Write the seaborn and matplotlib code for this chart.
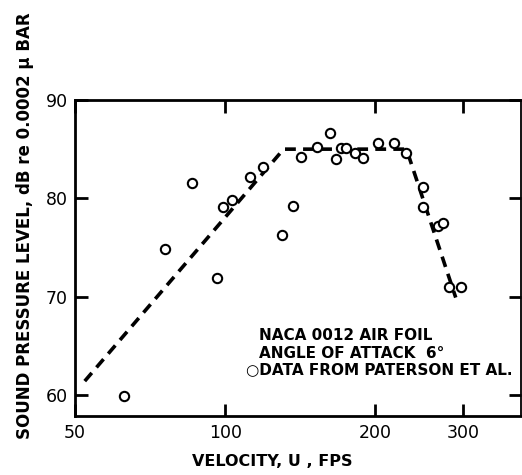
import matplotlib
matplotlib.use("Agg")
import matplotlib.pyplot as plt
from matplotlib.ticker import FixedLocator, NullLocator, FixedFormatter
import seaborn as sns
import pandas as pd

# Measured data (Paterson et al.)
velocity = [62.8, 75.6, 85.9, 96.2, 99.2, 103.3, 112.2, 119.3, 130.2, 136.8,
            142.1, 152.9, 162.5, 167.0, 170.9, 174.9, 182.3, 189.2, 202.5,
            218.5, 231.0, 249.0, 249.0, 266.6, 274.0, 280.5, 296.6]
spl = [59.9, 74.8, 81.6, 71.9, 79.1, 79.8, 82.2, 83.2, 76.3, 79.2,
       84.2, 85.2, 86.6, 84.0, 85.1, 85.1, 84.6, 84.1, 85.6,
       85.6, 84.6, 81.1, 79.1, 77.2, 77.5, 71.0, 71.0]

# Piecewise trend line
trend_velocity = [52.3, 131.0, 231.0, 290.0]
trend_spl = [61.4, 85.0, 85.0, 69.9]

x_ticks = [50, 100, 200, 300]
x_tick_labels = ["50", "100", "200", "300"]
y_ticks = [60, 70, 80, 90]
y_tick_labels = ["60", "70", "80", "90"]

data = pd.DataFrame({"velocity": velocity, "spl": spl})
trend = pd.DataFrame({"velocity": trend_velocity, "spl": trend_spl})

sns.set_style("ticks")
plt.rcParams["font.family"] = ["DejaVu Sans"]
plt.rcParams["text.color"] = "black"
plt.rcParams["xtick.color"] = "black"
plt.rcParams["ytick.color"] = "black"
plt.rcParams["xtick.labelcolor"] = "black"
plt.rcParams["ytick.labelcolor"] = "black"

fig = plt.figure(figsize=(5.22, 4.75), dpi=100)
ax = fig.add_axes([75 / 522, 1 - 416 / 475, (521 - 75) / 522, (416 - 100) / 475])

sns.lineplot(data=trend, x="velocity", y="spl", ax=ax, color="black",
             linewidth=2.6, linestyle=(0, (3.0, 2.0)), sort=False)
sns.scatterplot(data=data, x="velocity", y="spl", ax=ax, marker="o",
                s=45, facecolor="white", edgecolor="black", linewidth=1.5,
                zorder=3)

ax.set_xscale("log")
ax.set_xlim(50, 392)
ax.set_ylim(57.85, 90)

ax.xaxis.set_major_locator(FixedLocator(x_ticks))
ax.xaxis.set_major_formatter(FixedFormatter(x_tick_labels))
ax.xaxis.set_minor_locator(NullLocator())
ax.yaxis.set_major_locator(FixedLocator(y_ticks))
ax.yaxis.set_major_formatter(FixedFormatter(y_tick_labels))

ax.tick_params(axis="both", which="major", direction="in", length=9,
               width=2, color="black", labelcolor="black", labelsize=12.5,
               top=True, right=True, pad=6)
ax.tick_params(axis="y", pad=5)

for side in ["left", "bottom", "top"]:
    ax.spines[side].set_linewidth(2.0)
    ax.spines[side].set_color("black")
ax.spines["right"].set_linewidth(1.3)
ax.spines["right"].set_color("black")

ax.set_xlabel("")
ax.set_ylabel("")
fig.text(272 / 522, 1 - 462 / 475, "VELOCITY, U , FPS", ha="center",
         va="center", fontsize=11.5, fontweight="bold", color="black")
fig.text(25 / 522, 1 - 226 / 475,
         "SOUND PRESSURE LEVEL, dB re 0.0002 \u03bc BAR", rotation=90,
         ha="center", va="center", fontsize=12, fontweight="bold",
         color="black")

note_kw = dict(fontsize=11, fontweight="bold", ha="left", va="center",
               color="black", transform=fig.transFigure)
fig.text(259 / 522, 1 - 336 / 475, "NACA 0012 AIR FOIL", **note_kw)
fig.text(259 / 522, 1 - 353 / 475, "ANGLE OF ATTACK  6\u00b0", **note_kw)
fig.text(246 / 522, 1 - 370 / 475, "\u25cbDATA FROM PATERSON ET AL.", **note_kw)

fig.savefig("out.png", dpi=100)
